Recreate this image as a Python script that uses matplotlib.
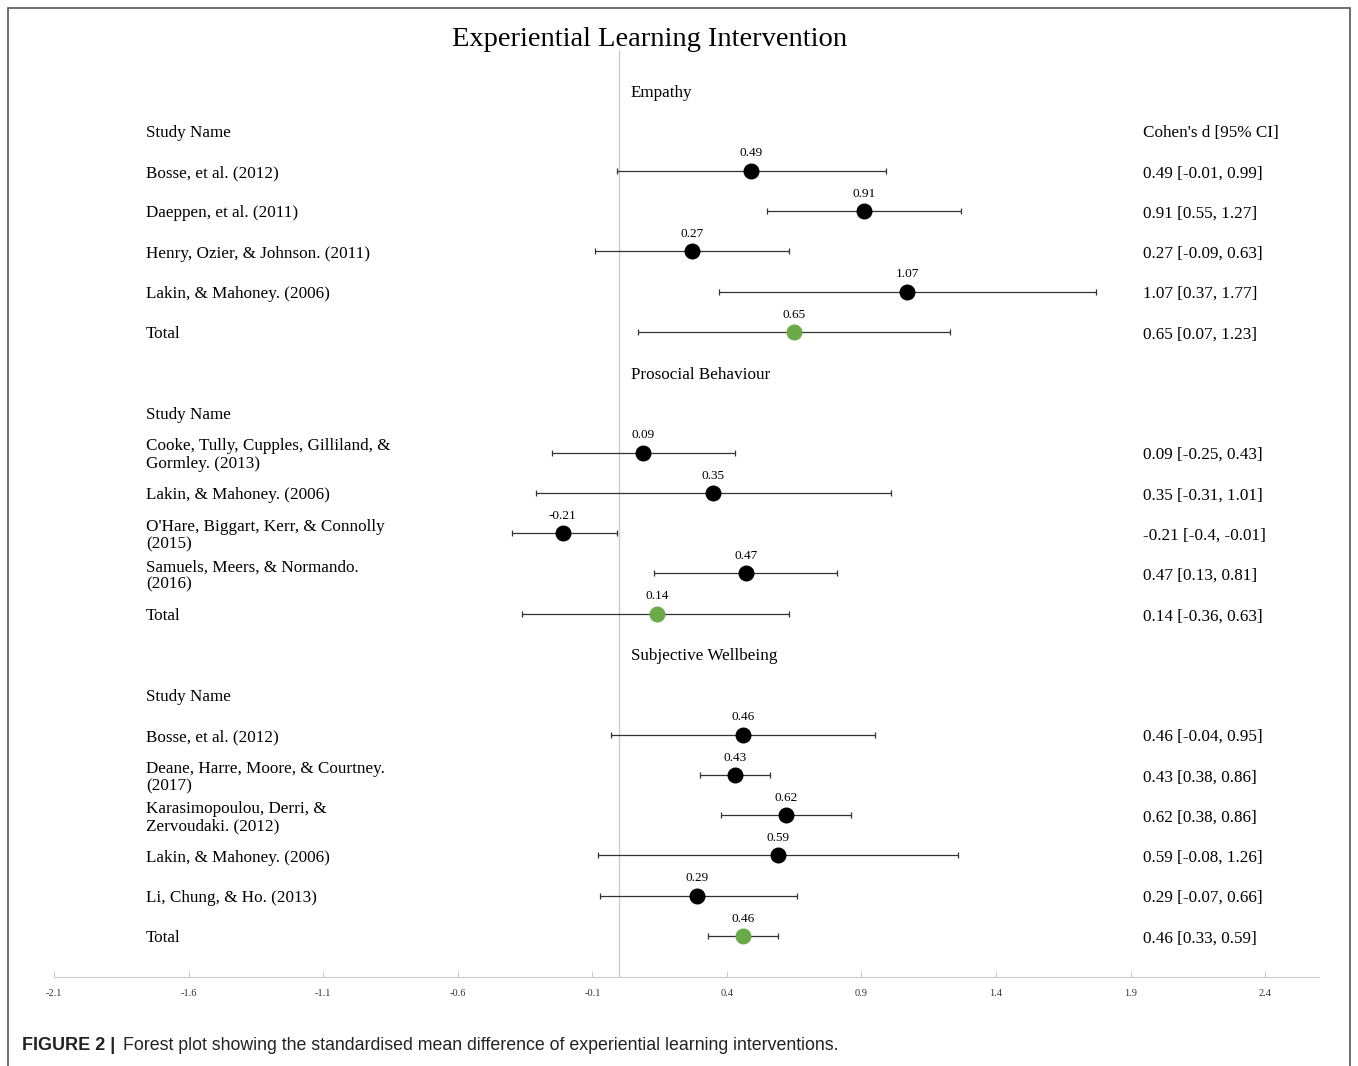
import numpy as np
import matplotlib
matplotlib.use("Agg")
import matplotlib.pyplot as plt
import matplotlib.transforms as mtransforms
from matplotlib.patches import Rectangle

plt.rcParams['font.family'] = ['Liberation Serif', 'DejaVu Serif']

# data
sections = ["Empathy", "Prosocial Behaviour", "Subjective Wellbeing"]

emp_names = ["Bosse, et al. (2012)", "Daeppen, et al. (2011)",
             "Henry, Ozier, & Johnson. (2011)", "Lakin, & Mahoney. (2006)", "Total"]
emp_d = [0.49, 0.91, 0.27, 1.07, 0.65]
emp_lo = [-0.01, 0.55, -0.09, 0.37, 0.07]
emp_hi = [0.99, 1.27, 0.63, 1.77, 1.23]
emp_txt = ["0.49 [-0.01, 0.99]", "0.91 [0.55, 1.27]", "0.27 [-0.09, 0.63]",
           "1.07 [0.37, 1.77]", "0.65 [0.07, 1.23]"]

pro_names = ["Cooke, Tully, Cupples, Gilliland, &\nGormley. (2013)",
             "Lakin, & Mahoney. (2006)",
             "O'Hare, Biggart, Kerr, & Connolly\n(2015)",
             "Samuels, Meers, & Normando.\n(2016)", "Total"]
pro_d = [0.09, 0.35, -0.21, 0.47, 0.14]
pro_lo = [-0.25, -0.31, -0.40, 0.13, -0.36]
pro_hi = [0.43, 1.01, -0.01, 0.81, 0.63]
pro_txt = ["0.09 [-0.25, 0.43]", "0.35 [-0.31, 1.01]", "-0.21 [-0.4, -0.01]",
           "0.47 [0.13, 0.81]", "0.14 [-0.36, 0.63]"]

swb_names = ["Bosse, et al. (2012)", "Deane, Harre, Moore, & Courtney.\n(2017)",
             "Karasimopoulou, Derri, &\nZervoudaki. (2012)",
             "Lakin, & Mahoney. (2006)", "Li, Chung, & Ho. (2013)", "Total"]
swb_d = [0.46, 0.43, 0.62, 0.59, 0.29, 0.46]
swb_lo = [-0.03, 0.30, 0.38, -0.08, -0.07, 0.33]
swb_hi = [0.95, 0.56, 0.86, 1.26, 0.66, 0.59]
swb_txt = ["0.46 [-0.04, 0.95]", "0.43 [0.38, 0.86]", "0.62 [0.38, 0.86]",
           "0.59 [-0.08, 1.26]", "0.29 [-0.07, 0.66]", "0.46 [0.33, 0.59]"]

xticks = [-2.1, -1.6, -1.1, -0.6, -0.1, 0.4, 0.9, 1.4, 1.9, 2.4]

groups = [(emp_names, emp_d, emp_lo, emp_hi, emp_txt),
          (pro_names, pro_d, pro_lo, pro_hi, pro_txt),
          (swb_names, swb_d, swb_lo, swb_hi, swb_txt)]

W, H = 1358, 1066
fig = plt.figure(figsize=(W / 100, H / 100), dpi=100)

# outer frame
fig.patches.append(Rectangle((8 / W, -0.01), 1342 / W, 1 - 8 / H + 0.01,
                             transform=fig.transFigure, fill=False,
                             edgecolor='#555555', linewidth=1.2))

ax_left, ax_right = 54 / W, 1319 / W
ax_top, ax_bot = 1 - 50 / H, 1 - 977 / H
ax = fig.add_axes([ax_left, ax_bot, ax_right - ax_left, ax_top - ax_bot])

# row i sits at pixel 91 + 40.25*i
row_h = 40.25
y_top = (50 - 91) / row_h
ax.set_ylim(22, y_top)
ax.set_xlim(-2.1, 2.6)

for s in ['top', 'right', 'left']:
    ax.spines[s].set_visible(False)
ax.spines['bottom'].set_color('#cccccc')
ax.set_yticks([])
ax.set_xticks(xticks)
ax.set_xticklabels([f"{t:g}" for t in xticks])
ax.tick_params(axis='x', direction='in', length=4, color='#cccccc',
               labelsize=7.5, labelcolor='#333333', pad=9)

ax.axvline(0, color='#cccccc', linewidth=1, zorder=0)

bt = mtransforms.blended_transform_factory(fig.transFigure, ax.transData)
x_name = 146 / W
x_ci = 1143 / W
x_sec = 631 / W
fs = 12.3
dy = 0.04  # text sits a touch lower than the row centre

row = 0
for gi, (names, d, lo, hi, txt) in enumerate(groups):
    ax.text(x_sec, row + dy, sections[gi], transform=bt, fontsize=fs,
            ha='left', va='center')
    row += 1
    ax.text(x_name, row + dy, "Study Name", transform=bt, fontsize=fs,
            ha='left', va='center')
    if gi == 0:
        ax.text(x_ci, row + dy, "Cohen's d [95% CI]", transform=bt, fontsize=fs,
                ha='left', va='center')
    row += 1
    for k in range(len(names)):
        total = names[k] == "Total"
        col = '#6aaa48' if total else 'black'
        ax.errorbar(d[k], row - 0.02, xerr=[[d[k] - lo[k]], [hi[k] - d[k]]],
                    fmt='o', color=col, ecolor='#333333', elinewidth=0.9,
                    capsize=2.5, capthick=0.9, markersize=10.5, zorder=3)
        ax.text(d[k], row - 0.45, f"{d[k]:.2f}", fontsize=9.5, ha='center',
                va='center')
        ax.text(x_name, row + dy, names[k], transform=bt, fontsize=fs,
                ha='left', va='center', linespacing=1.12)
        ax.text(x_ci, row + dy, txt[k], transform=bt, fontsize=fs,
                ha='left', va='center')
        row += 1

fig.text(650 / W, 1 - 39 / H, "Experiential Learning Intervention",
         fontsize=20.5, ha='center', va='center')

cap_font = ['Liberation Sans Narrow', 'Liberation Sans', 'DejaVu Sans']
fig.text(22 / W, 1 - 1046 / H, "FIGURE 2 |", fontsize=13, fontweight='bold',
         family=cap_font, ha='left', va='center', color='#222222')
fig.text(123 / W, 1 - 1046 / H,
         "Forest plot showing the standardised mean difference of experiential learning interventions.",
         fontsize=12.8, family=cap_font, ha='left', va='center', color='#222222')

fig.savefig("out.png", dpi=100)
